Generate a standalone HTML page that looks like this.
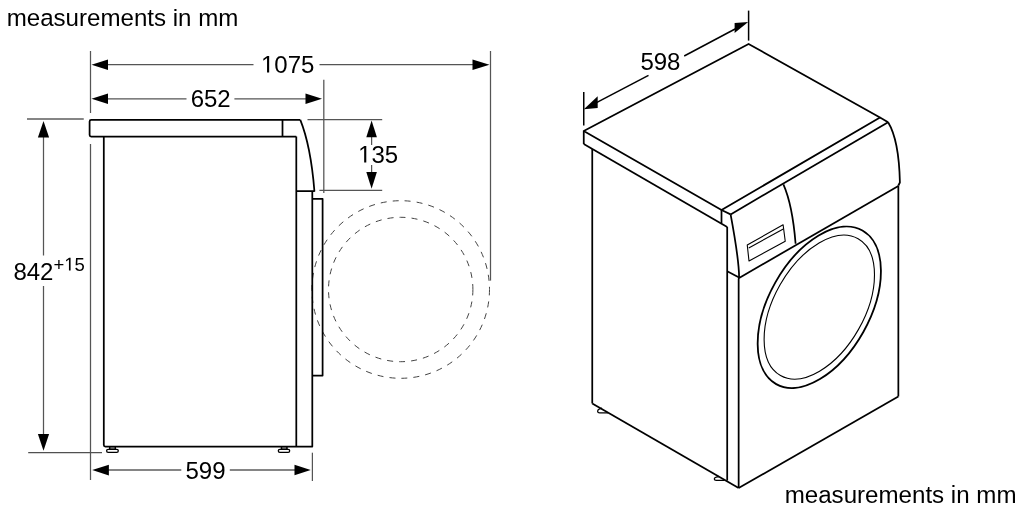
<!DOCTYPE html>
<html><head><meta charset="utf-8"><style>
html,body{margin:0;padding:0;background:#fff;}
body{width:1024px;height:512px;overflow:hidden;}
svg{display:block;will-change:transform;}
text{font-family:"Liberation Sans",sans-serif;fill:#000;}
</style></head><body>
<svg width="1024" height="512" viewBox="0 0 1024 512">
<rect width="1024" height="512" fill="#fff"/>
<!-- captions -->
<text x="6.7" y="25.9" font-size="24.1">measurements in mm</text>
<text x="784.7" y="502.9" font-size="24.12">measurements in mm</text>

<!-- ===== LEFT: dimension lines ===== -->
<g stroke="#555" stroke-width="1.25" fill="none">
  <!-- 1075 -->
  <line x1="100" y1="64.7" x2="253.5" y2="64.7"/>
  <line x1="319.5" y1="64.7" x2="480" y2="64.7"/>
  <!-- ext lines -->
  <line x1="90.5" y1="51" x2="90.5" y2="113"/>
  <line x1="90.5" y1="144" x2="90.5" y2="480"/>
  <line x1="490.5" y1="51" x2="490.5" y2="280.6"/>
  <!-- 652 -->
  <line x1="100" y1="98.8" x2="186.5" y2="98.8"/>
  <line x1="234.4" y1="98.8" x2="314" y2="98.8"/>
  <line x1="323.8" y1="79.8" x2="323.8" y2="193" stroke-width="1.3" stroke="#5a5a5a"/>
  <!-- 842 -->
  <line x1="43.5" y1="130" x2="43.5" y2="255.5"/>
  <line x1="43.5" y1="286" x2="43.5" y2="442"/>
  <line x1="28.2" y1="452.5" x2="102" y2="452.5" stroke="#505050"/>
  <!-- 135 -->
  <line x1="371.6" y1="130" x2="371.6" y2="145"/>
  <line x1="371.6" y1="165" x2="371.6" y2="180"/>
  <line x1="307.5" y1="119.6" x2="382.2" y2="119.6"/>
  <line x1="319.4" y1="190.4" x2="382.2" y2="190.4"/>
  <!-- 599 ext -->
  <line x1="312.4" y1="452.7" x2="312.4" y2="481"/>
</g>
<line x1="27" y1="119" x2="83.75" y2="119" stroke="#858585" stroke-width="2"/>
<g stroke="#858585" stroke-width="2">
  <line x1="100" y1="470" x2="181.3" y2="470"/>
  <line x1="229.8" y1="470" x2="302" y2="470"/>
</g>
<!-- arrows left -->
<g fill="#000" stroke="none">
  <polygon points="91.5,64.7 108,59.4 108,70"/>
  <polygon points="489.5,64.7 472.5,59.4 472.5,70"/>
  <polygon points="91.5,98.8 108,93.5 108,104.1"/>
  <polygon points="322,98.8 305.5,93.5 305.5,104.1"/>
  <polygon points="43.5,120.9 37.9,137.6 49.1,137.6"/>
  <polygon points="43.5,450.8 37.9,434.1 49.1,434.1"/>
  <polygon points="371.6,120.5 366.3,137.2 376.9,137.2"/>
  <polygon points="371.6,188.8 366.3,171.9 376.9,171.9"/>
  <polygon points="92.2,470.1 108.9,464.8 108.9,475.4"/>
  <polygon points="310.7,470 294.5,464.7 294.5,475.3"/>
</g>
<!-- dim texts left -->
<g font-size="24" text-anchor="middle">
  <text x="287.7" y="72.6">&#x2007;075</text>
  <text x="210.65" y="106.6">652</text>
  <text x="205.55" y="479.2">599</text>
  <text x="378.15" y="162.6">&#x2007;35</text>
</g>
<text x="13.4" y="279.6" font-size="24">842</text>
<text x="53.5" y="270.6" font-size="18.5">+&#x2007;5</text>

<!-- Arial-style "1" glyphs (no foot) -->
<g fill="#000">
  <path transform="translate(261.005 72.6) scale(0.01171875 -0.01171875)" d="M515 0V1237L197 1010V1180L530 1409H696V0Z"/>
  <path transform="translate(358.13 162.6) scale(0.01171875 -0.01171875)" d="M515 0V1237L197 1010V1180L530 1409H696V0Z"/>
  <path transform="translate(64.30 270.6) scale(0.009033203 -0.009033203)" d="M515 0V1237L197 1010V1180L530 1409H696V0Z"/>
</g>
<!-- dashed circles -->
<g stroke="#444" stroke-width="1" fill="none">
  <circle cx="400.7" cy="289.5" r="88.8" stroke-dasharray="6 6.05"/>
  <circle cx="400.7" cy="289.5" r="72.2" stroke-dasharray="6 6.09"/>
</g>

<!-- ===== LEFT: machine side view ===== -->
<g stroke="#000" stroke-width="1.75" fill="none" stroke-linejoin="round">
  <path d="M300.3,119.9 L91.2,119.9 Q89.6,119.9 89.6,121.5 L89.6,135 Q89.6,136.6 91.2,136.6 L296.3,136.6"/>
  <line x1="282.5" y1="119.9" x2="282.5" y2="136.6"/>
  <path d="M300.3,119.9 Q310.8,146 314.4,191 L296.3,191"/>
  <path d="M103.8,136.6 L103.8,445 Q103.8,446.6 105.4,446.6 L312.3,446.6 L312.3,191"/>
  <line x1="296.3" y1="136.6" x2="296.3" y2="446.6"/>
  <path d="M312.3,198.8 L322.6,198.8 L322.6,375.6 L312.3,375.6"/>
  <!-- feet -->
  <rect x="106.6" y="449.3" width="11.7" height="3.1" rx="1.55" stroke-width="1.3"/>
  <rect x="278.3" y="449.3" width="11.4" height="3.1" rx="1.55" stroke-width="1.3"/>
</g>
<g fill="#555">
  <rect x="109" y="447" width="7" height="2"/>
  <rect x="280.8" y="447" width="6.8" height="2"/>
</g>
<g fill="#000">
  <rect x="109" y="447" width="1.4" height="2"/>
  <rect x="114.6" y="447" width="1.4" height="2"/>
  <rect x="280.8" y="447" width="1.4" height="2"/>
  <rect x="286.2" y="447" width="1.4" height="2"/>
</g>

<!-- ===== RIGHT: 598 dimension ===== -->
<g stroke="#000" stroke-width="1.5" fill="none">
  <line x1="583.75" y1="92.1" x2="583.75" y2="125.6"/>
  <line x1="748.6" y1="10.6" x2="748.6" y2="40.6"/>
  <line x1="596" y1="102.9" x2="648.5" y2="75.3"/>
  <line x1="684.2" y1="56" x2="736" y2="28.5"/>
</g>
<g fill="#000">
  <polygon points="583.9,109.3 597.7,96.3 597.7,107.9"/>
  <polygon points="748.2,21.9 734.6,23.1 734.6,33.1"/>
</g>
<text x="660.45" y="69.8" font-size="24" text-anchor="middle">598</text>

<!-- feet right -->
<g stroke="#000" stroke-width="1.3" fill="#fff">
  <path d="M602,408.2 L599.6,408.9 Q597.6,409.6 597.6,411.2 Q597.7,412.9 599.6,412.9 L608,412.9"/>
  <path d="M719,476.5 L716.2,477.1 Q714.3,477.6 714.3,479 Q714.4,480.4 716.2,480.4 L724.5,480.4"/>
</g>
<!-- ===== RIGHT: machine iso view ===== -->
<g stroke="#000" stroke-width="1.75" fill="none" stroke-linejoin="round">
  <!-- top plate -->
  <path d="M583.75,130.9 L748.6,44 L880,117.5 L721.5,210 Z"/>
  <line x1="583.75" y1="130.9" x2="583.75" y2="144"/>
  <line x1="721.5" y1="210" x2="721.5" y2="223.3"/>
  <line x1="583.75" y1="144" x2="727.2" y2="226.9"/>
  <line x1="721.5" y1="210" x2="730.6" y2="214.4"/>
  <line x1="880" y1="117.5" x2="888.1" y2="122.25"/>
  <line x1="730.6" y1="214.4" x2="888.1" y2="122.25"/>
  <path d="M888.1,122.25 Q899,140 899.9,182.5 L898.35,185.5"/>
  <!-- side face -->
  <line x1="592.25" y1="149" x2="592.25" y2="403.5"/>
  <line x1="592.25" y1="403.5" x2="738.65" y2="488.1"/>
  <line x1="727.2" y1="226.9" x2="727.2" y2="480.6"/>
  <line x1="727.2" y1="271.3" x2="739.1" y2="277.6"/>
  <path d="M730.6,214.4 C733.5,230 739.1,262 739.1,277.6"/>
  <!-- front face -->
  <path d="M739.1,277.6 L738.65,279 L738.65,488.1"/>
  <line x1="738.65" y1="488.1" x2="898.35" y2="396.5"/>
  <line x1="898.35" y1="185.5" x2="898.35" y2="396.5"/>
  <line x1="739.1" y1="277.9" x2="898.35" y2="186.1"/>
  <!-- divider -->
  <path d="M783.4,184.4 Q792.5,205 795.6,243.8"/>
</g>
<!-- display window -->
<g stroke="#000" stroke-width="1.1" fill="none" stroke-linejoin="round">
  <path d="M747.25,245 L783.1,224.75 L785.25,241.25 L749,261 Z"/>
  <line x1="748.75" y1="247.9" x2="783.3" y2="229"/>
</g>
<!-- door -->
<g fill="none" stroke="#000">
  <ellipse cx="819.3" cy="307.3" rx="88.1" ry="50.5" transform="rotate(-60.7 819.3 307.3)" stroke-width="1.8"/>
  <ellipse cx="819.3" cy="307.1" rx="78.6" ry="45.1" transform="rotate(-60.4 819.3 307.1)" stroke-width="1.1"/>
</g>

</svg>
</body></html>
